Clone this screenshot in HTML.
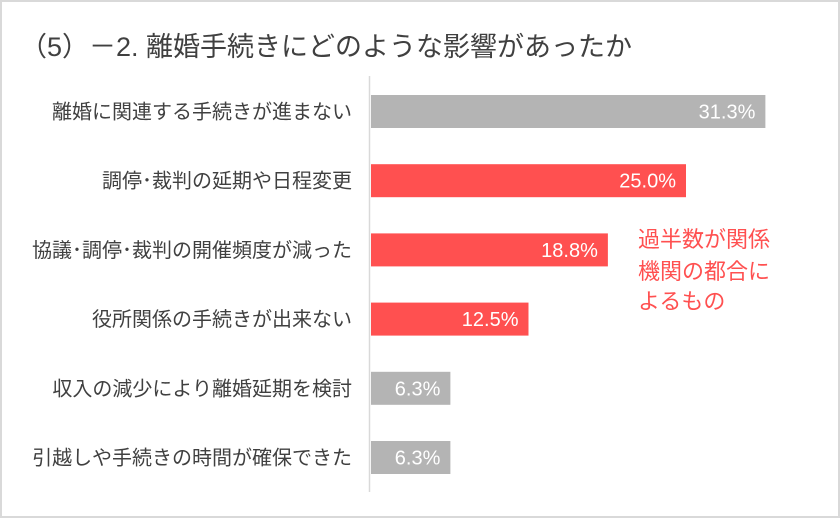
<!DOCTYPE html>
<html><head><meta charset="utf-8"><style>
body{margin:0;background:#fff;}
#wrap{position:relative;width:840px;height:519px;overflow:hidden;font-family:"Liberation Sans","Noto Sans CJK JP",sans-serif;}
</style></head><body>
<div id="wrap">
<svg id="chart" width="840" height="519">
<rect x="1" y="1" width="838" height="516" fill="#fff" stroke="#d9d9d9" stroke-width="2"/>
<text x="20" y="56" font-size="27" fill="#404040">（5）－2. 離婚手続きにどのような影響があったか</text>
<line x1="369.5" y1="76" x2="369.5" y2="492" stroke="#d9d9d9" stroke-width="1.5"/>
<text font-size="22" fill="#ff5050"><tspan x="638" y="247">過半数が関係</tspan><tspan x="638" y="279">機関の都合に</tspan><tspan x="638" y="309">よるもの</tspan></text>
</svg>
</div>
<script>
const categories=["離婚に関連する手続きが進まない","調停･裁判の延期や日程変更","協議･調停･裁判の開催頻度が減った","役所関係の手続きが出来ない","収入の減少により離婚延期を検討","引越しや手続きの時間が確保できた"];
const values=[31.3,25.0,18.8,12.5,6.3,6.3];
const highlighted=[false,true,true,true,false,false];
const svg=document.getElementById('chart');
const NS='http://www.w3.org/2000/svg';
const x0=371, pxPer=12.6, top0=95, step=69.2, bh=33;
const xScale=v=>v*pxPer;
const yScale=i=>top0+i*step;
categories.forEach((c,i)=>{
  const y=yScale(i), w=xScale(values[i]);
  const r=document.createElementNS(NS,'rect');
  r.setAttribute('x',x0);r.setAttribute('y',y);r.setAttribute('width',w);r.setAttribute('height',bh);
  r.setAttribute('fill',highlighted[i]?'#ff5050':'#b4b4b4');
  
  
  svg.appendChild(r);
  const t=document.createElementNS(NS,'text');
  t.setAttribute('x',x0+w-10);t.setAttribute('y',y+bh/2+7);t.setAttribute('text-anchor','end');
  t.setAttribute('font-size','20');t.setAttribute('fill','#fff');
  t.textContent=values[i].toFixed(1)+'%';
  
  
  svg.appendChild(t);
  const l=document.createElementNS(NS,'text');
  l.setAttribute('x',352);l.setAttribute('y',y+bh/2+7);l.setAttribute('text-anchor','end');
  l.setAttribute('font-size','20');l.setAttribute('fill','#404040');
  l.textContent=c;
  
  
  svg.appendChild(l);
});
</script>
</body></html>
